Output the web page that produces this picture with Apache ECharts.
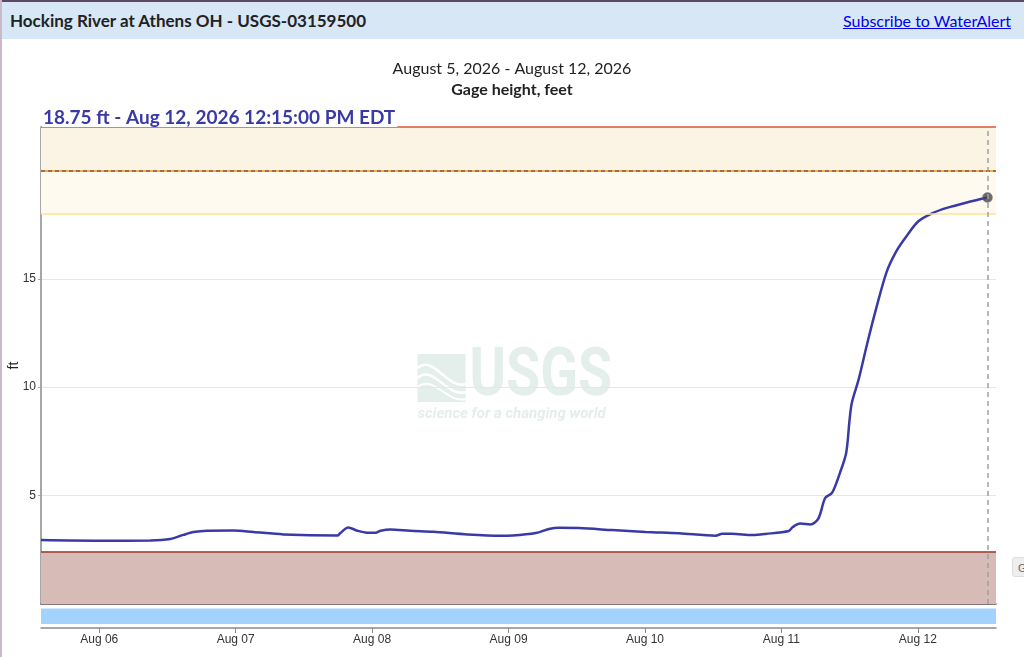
<!DOCTYPE html>
<html>
<head>
<meta charset="utf-8">
<script src="https://cdn.jsdelivr.net/npm/echarts@6/dist/echarts.min.js"></script>
<style>
html,body{margin:0;padding:0;width:1024px;height:657px;overflow:hidden;background:#fff;}
#chart{position:absolute;left:0;top:0;width:1024px;height:657px;}
#topline{position:absolute;left:0;top:0;width:1024px;height:2px;background:#5e4763;z-index:5;}
#leftline{position:absolute;left:0;top:0;width:2px;height:657px;background:#c9b9c9;z-index:5;}
#header{position:absolute;left:0;top:2px;width:1024px;height:37px;background:#d8e7f5;z-index:4;}
#header .t{position:absolute;left:10px;top:8px;font-family:Lato,'Noto Sans',sans-serif;font-weight:bold;font-size:17px;color:#222;}
#header a{position:absolute;right:13px;top:9px;font-family:Lato,'Noto Sans',sans-serif;font-size:16px;color:#0000ee;text-decoration:underline;}
#gbtn{position:absolute;left:1012px;top:557px;width:20px;height:20px;background:#eeeeee;border:1px solid #dddddd;border-radius:3px;z-index:4;font-family:'Liberation Sans',sans-serif;font-size:11px;color:#666;line-height:20px;padding-left:5px;box-sizing:border-box;}
</style>
</head>
<body>
<div id="chart"></div>
<div id="topline"></div>
<div id="leftline"></div>
<div id="header"><span class="t">Hocking River at Athens OH - USGS-03159500</span><a href="#">Subscribe to WaterAlert</a></div>
<div id="gbtn">G</div>
<script>
// ---- data (hours since Aug 05 2026 00:00 EDT) ----
const hours = [13.75, 24.2, 33.0, 36.5, 38.8, 40.6, 43.0, 47.6, 51.1, 56.4, 65.9, 66.4, 67.8, 69.4, 71.1, 72.6, 73.5, 75.2, 78.7, 82.8, 88.8, 94.6, 96.7, 100.8, 103.1, 104.9, 108.4, 114.2, 120.1, 126.0, 132.4, 133.6, 135.3, 138.9, 141.2, 145.3, 146.0, 147.3, 149.1, 150.5, 151.7, 152.9, 154.3, 155.4, 156.0, 156.4, 157.6, 159.0, 160.5, 162.5, 164.3, 166.1, 168.1, 170.7, 173.1, 176.6, 180.25];
const gage  = [2.95, 2.92, 2.93, 3.00, 3.19, 3.32, 3.38, 3.39, 3.32, 3.21, 3.16, 3.27, 3.53, 3.38, 3.29, 3.29, 3.38, 3.44, 3.38, 3.33, 3.21, 3.15, 3.16, 3.27, 3.46, 3.52, 3.50, 3.41, 3.32, 3.26, 3.15, 3.24, 3.24, 3.18, 3.23, 3.37, 3.55, 3.71, 3.67, 3.94, 4.89, 5.12, 6.05, 6.98, 8.52, 9.29, 10.37, 11.91, 13.46, 15.31, 16.31, 17.00, 17.65, 18.04, 18.27, 18.52, 18.75];
const dayTicks  = [24, 48, 72, 96, 120, 144, 168];
const dayLabels = ['Aug 06', 'Aug 07', 'Aug 08', 'Aug 09', 'Aug 10', 'Aug 11', 'Aug 12'];
const yTicks = [5, 10, 15];
const xRange = [13.75, 181.75];
const yRange = [0, 22];
const levelTop = 22, levelDashed = 20, levelYellow = 18, levelLow = 2.42;
const latestTime = 'Aug 12, 2026 12:15:00 PM EDT';

const last = hours.length - 1;
const lineData = hours.map((h, i) => [h, gage[i]]);
const fmtDay = v => { const i = dayTicks.indexOf(v); return i >= 0 ? dayLabels[i] : ''; };

const chart = echarts.init(document.getElementById('chart'), null, {renderer: 'canvas'});
const wm = '#e4eeea';
chart.setOption({
  animation: false,
  textStyle: {fontFamily: "'Liberation Sans', Arial, sans-serif"},
  title: [
    {text: 'August 5, 2026 - August 12, 2026', left: 'center', top: 56,
     textStyle: {fontFamily: 'Lato', fontSize: 16, fontWeight: 'normal', color: '#222'}},
    {text: 'Gage height, feet', left: 'center', top: 77,
     textStyle: {fontFamily: 'Lato', fontSize: 16, fontWeight: 'bold', color: '#222'}},
    {text: gage[last].toFixed(2) + ' ft - ' + latestTime, left: 42, top: 108, padding: [0, 2, 0, 1],
     backgroundColor: '#ffffff', z: 10,
     textStyle: {fontFamily: 'Lato', fontSize: 19, fontWeight: 'bold', color: '#3a3aa6', lineHeight: 19}}
  ],
  graphic: [
    {type: 'group', left: 415, top: 345, silent: true, z: -10, children: [
      {type: 'rect', shape: {x: 0, y: 0, width: 48, height: 48}, style: {fill: wm}},
      {type: 'bezierCurve', shape: {x1: 0, y1: 14, x2: 48, y2: 30, cpx1: 16, cpy1: 0, cpx2: 30, cpy2: 36}, style: {stroke: '#fff', lineWidth: 2.5, fill: null}},
      {type: 'bezierCurve', shape: {x1: 0, y1: 24, x2: 48, y2: 38, cpx1: 16, cpy1: 10, cpx2: 30, cpy2: 44}, style: {stroke: '#fff', lineWidth: 2.5, fill: null}},
      {type: 'bezierCurve', shape: {x1: 0, y1: 33, x2: 48, y2: 45, cpx1: 16, cpy1: 20, cpx2: 30, cpy2: 50}, style: {stroke: '#fff', lineWidth: 2, fill: null}},
      {type: 'text', x: 52, y: -9, scaleX: 0.84, style: {text: 'USGS', fill: wm, font: 'bold 66px Roboto'}},
      {type: 'text', x: 0, y: 53, style: {text: 'science for a changing world', fill: wm, font: 'italic bold 15px Roboto'}}
    ]}
  ],
  grid: [
    {left: 41, right: 28, top: 127, height: 477, outerBoundsMode: 'none', containLabel: false},
    {left: 41, right: 28, top: 608.5, height: 15.5, outerBoundsMode: 'none', containLabel: false}
  ],
  xAxis: [
    {type: 'value', gridIndex: 0, min: xRange[0], max: xRange[1],
     axisLine: {show: true, onZero: false, lineStyle: {color: '#5b4a45', width: 1.5}},
     axisTick: {show: false}, axisLabel: {show: false}, splitLine: {show: false}},
    {type: 'value', gridIndex: 1, min: xRange[0], max: xRange[1], position: 'bottom', offset: 4,
     axisLine: {show: true, onZero: false, lineStyle: {color: '#8a8a8a', width: 1.5}},
     axisTick: {show: true, customValues: dayTicks, length: 5, lineStyle: {color: '#8a8a8a', width: 1}},
     axisLabel: {show: true, customValues: dayTicks, formatter: fmtDay, color: '#333', fontSize: 12, margin: 6},
     splitLine: {show: false}}
  ],
  yAxis: [
    {type: 'value', gridIndex: 0, min: yRange[0], max: yRange[1], interval: 5,
     name: 'ft', nameLocation: 'middle', nameGap: 20, nameRotate: 90, nameMoveOverlap: false,
     nameTextStyle: {color: '#222', fontSize: 14},
     axisLine: {show: true, lineStyle: {color: '#8a8a8a', width: 1.5}},
     axisTick: {show: true, customValues: yTicks, length: 3, lineStyle: {color: '#aaa'}},
     axisLabel: {customValues: yTicks, color: '#333', fontSize: 12, margin: 5},
     splitLine: {show: true, lineStyle: {color: '#e6e6e6', width: 1}}},
    {type: 'value', gridIndex: 1, min: 0, max: 1, show: false}
  ],
  series: [
    {type: 'line', xAxisIndex: 0, yAxisIndex: 0, data: [], z: 1, silent: true,
     markArea: {silent: true, data: [
       [{yAxis: levelDashed, itemStyle: {color: '#fbf3e3'}}, {yAxis: levelTop}],
       [{yAxis: levelYellow, itemStyle: {color: '#fffaf0'}}, {yAxis: levelDashed}],
       [{yAxis: yRange[0], itemStyle: {color: '#d6bbb6'}}, {yAxis: levelLow}]
     ]},
     markLine: {silent: true, symbol: 'none', label: {show: false}, data: [
       {yAxis: levelTop, lineStyle: {color: '#e0543c', width: 1.5, type: 'solid'}},
       {yAxis: levelYellow, lineStyle: {color: '#fde48f', width: 1.5, type: 'solid'}},
       {yAxis: levelDashed, lineStyle: {color: '#e8b443', width: 2, type: 'solid'}},
       {yAxis: levelDashed, lineStyle: {color: '#a5694f', width: 2, type: [4, 3]}},
       {yAxis: levelLow, lineStyle: {color: '#9b3a2c', width: 1.5, type: 'solid'}}
     ]}},
    {type: 'line', xAxisIndex: 0, yAxisIndex: 0, data: lineData, z: 3,
     symbol: 'none', smooth: 0.3,
     lineStyle: {color: '#3a3aa6', width: 2.5},
     markLine: {silent: true, symbol: 'none', label: {show: false}, data: [
       {xAxis: hours[last], lineStyle: {color: '#a0a0a0', width: 1.5, type: [5, 4]}}
     ]}},
    {type: 'scatter', xAxisIndex: 0, yAxisIndex: 0, data: [lineData[last]], z: 4,
     symbolSize: 10, itemStyle: {color: '#474747', borderColor: 'rgba(120,120,120,0.5)', borderWidth: 1}},
    {type: 'line', xAxisIndex: 1, yAxisIndex: 1, data: [], silent: true,
     markArea: {silent: true, data: [[{xAxis: xRange[0], itemStyle: {color: '#a3d2fd'}}, {xAxis: xRange[1]}]]}}
  ]
});
</script>
</body>
</html>
